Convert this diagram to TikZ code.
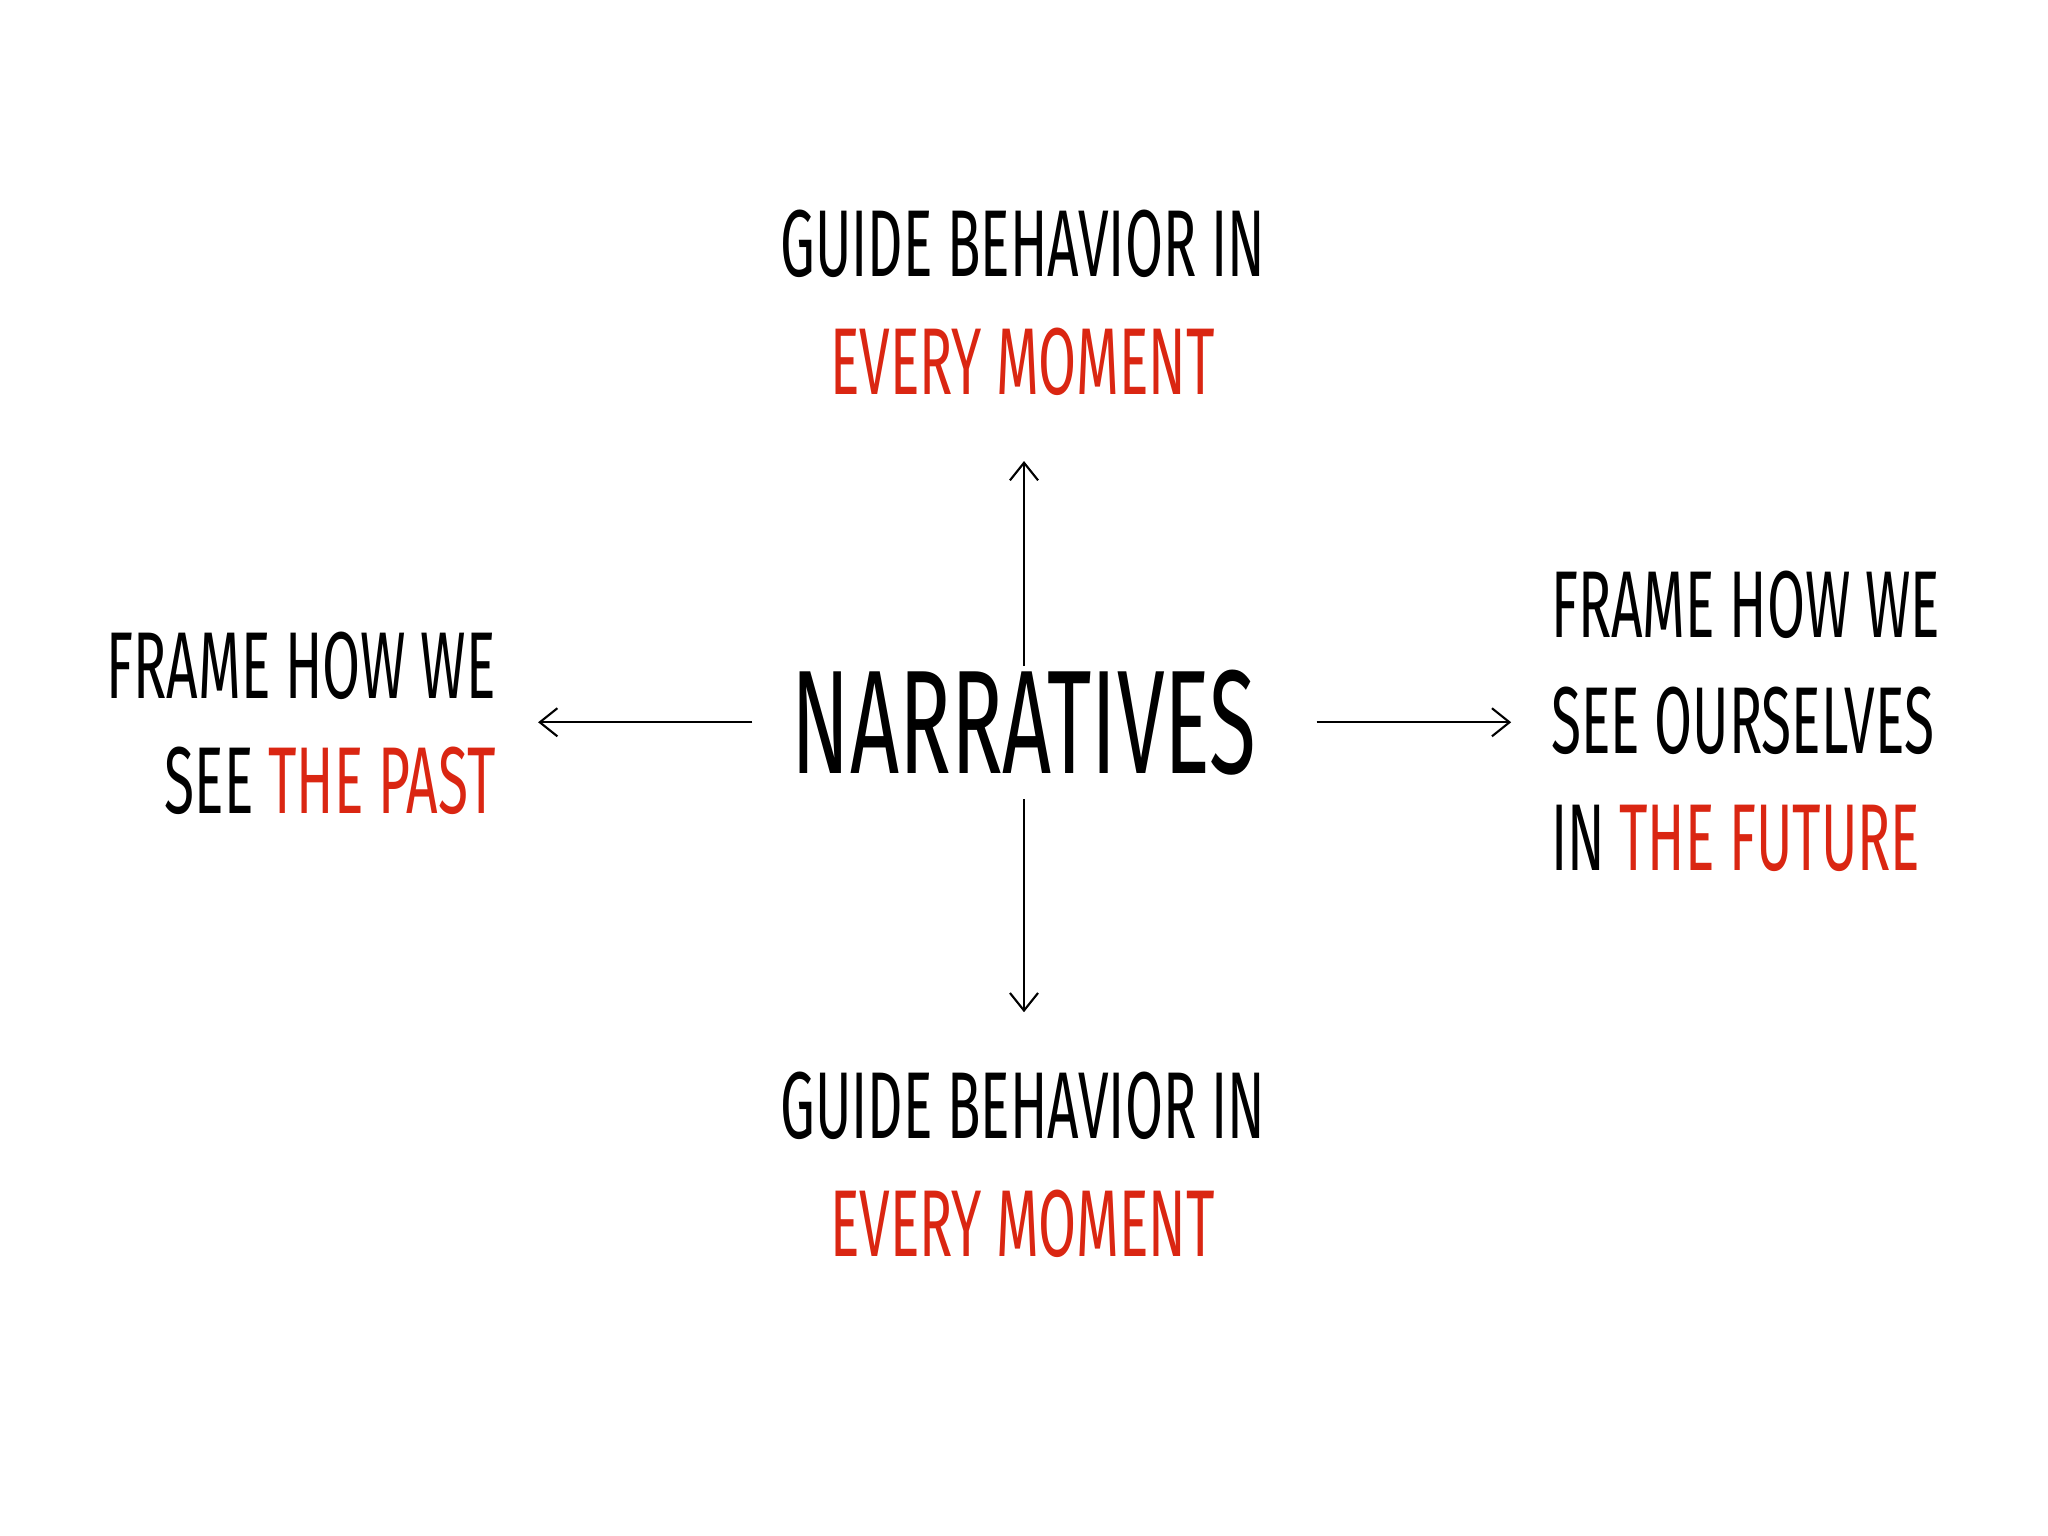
\documentclass[tikz,border=0pt]{standalone}
\usepackage{fontspec}
\setmainfont[FakeStretch=0.58]{Fira Sans}
\usetikzlibrary{arrows.meta}
\definecolor{hred}{RGB}{218,38,18}
\tikzset{lbl/.style={font=\fontsize{27}{30}\selectfont, inner sep=0pt},
  arr/.style={-{Straight Barb[length=5pt,width=8pt]}, line width=0.6pt}}
\begin{document}
\begin{tikzpicture}[x=0.01306cm,y=-0.01306cm]
\useasboundingbox (0,0) rectangle (1568,1176);
\node[lbl,font=\fontsize{42}{46}\selectfont] (n) at (784,553) {NARRATIVES};
\node[lbl] (t1) at (783,187) {GUIDE BEHAVIOR IN};
\node[lbl,text=hred] (t2) at (783,277) {EVERY MOMENT};
\node[lbl] (b1) at (783,847) {GUIDE BEHAVIOR IN};
\node[lbl,text=hred] (b2) at (783,937) {EVERY MOMENT};
\node[lbl,anchor=east] (l1) at (380,510) {FRAME HOW WE};
\node[lbl,anchor=east] (l2) at (380,598) {SEE \textcolor{hred}{THE PAST}};
\node[lbl,anchor=west] (r1) at (1187,463) {FRAME HOW WE};
\node[lbl,anchor=west] (r2) at (1187,552) {SEE OURSELVES};
\node[lbl,anchor=west] (r3) at (1187,642) {IN \textcolor{hred}{THE FUTURE}};
\coordinate (au0) at (784,510); \coordinate (au1) at (784,353);
\coordinate (ad0) at (784,612); \coordinate (ad1) at (784,775);
\coordinate (al0) at (576,553); \coordinate (al1) at (412,553);
\coordinate (ar0) at (1008,553); \coordinate (ar1) at (1157,553);
\draw[arr] (au0) -- (au1);
\draw[arr] (ad0) -- (ad1);
\draw[arr] (al0) -- (al1);
\draw[arr] (ar0) -- (ar1);
\end{tikzpicture}
\end{document}
